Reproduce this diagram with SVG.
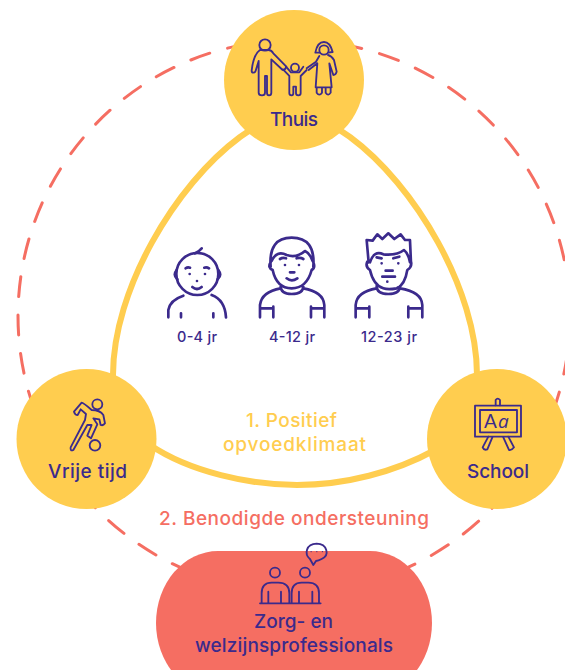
<svg xmlns="http://www.w3.org/2000/svg" width="565" height="670" viewBox="0 0 565 670">
<style>
.t{font-family:"Inter","Noto Sans",sans-serif;font-weight:500;text-anchor:middle}
.ink{fill:#3B2A8C}
.yel{fill:#FFCD4F}
.cor{fill:#F56E62}
.ic{fill:none;stroke:#3B2A8C;stroke-linecap:round;stroke-linejoin:round}
.i1{stroke-width:5.5}
.i2{stroke-width:8}
</style>
<rect width="565" height="670" fill="#fff"/>
<g id="connectors" fill="none">
<circle id="ring" cx="294" cy="316" r="276" stroke="#F56E62" stroke-width="3" stroke-linecap="round" stroke-dasharray="20 18.53"/>
<path id="climate" stroke="#FFCD4F" stroke-width="6" d="M240,137 C175,185 113,290 113,375 L113,400 L150,445 C190,472 250,485 297,485 C345,485 395,472 435,450 L477,400 L477,375 C477,290 415,185 350,137 L295,100 Z"/>
</g>
<g id="node-thuis">
<circle class="yel" cx="294" cy="80" r="70"/>
<g class="ic i1" transform="translate(210,0) scale(.3333)">
<circle cx="165" cy="135" r="17"/>
<path d="M150,150 C135,160 128,185 125,212 C125,220 135,220 137,212 L146,183 L146,278 Q146,286 156,286 Q165,286 165,278 L165,228 L171,228 L171,278 Q171,286 177,286 Q184,286 184,278 L184,178 L218,210 Q225,212 229,200 L190,160 Q185,150 175,150 Z"/>
<circle cx="255" cy="203" r="12"/>
<path d="M219,208 L238,228 L238,280 Q238,286 245,286 Q250,286 250,280 L250,260 L258,260 L258,280 Q258,286 265,286 Q272,286 272,280 L272,228 L290,210 M280,200 L268,217 L243,217 L228,200"/>
<circle cx="342" cy="150" r="14"/>
<path d="M316,158 Q322,126 342,126 Q360,126 368,156 L354,158 M330,158 L316,158"/>
<path d="M290,205 L318,185 L328,168 M322,190 L317,262 L365,262 L358,190 L370,225 Q378,225 380,215 L372,180 Q365,168 354,165 M296,210 L322,190 M320,262 L320,278 Q328,290 336,278 L336,262 M347,262 L347,278 Q355,290 362,278 L362,262"/>
</g>
<text class="t ink" x="294" y="125.500" font-size="19" textLength="48">Thuis</text>
</g>
<g id="node-children">
<g class="ic i2" transform="translate(150,225) scale(.3333)">
<circle cx="142" cy="147" r="63"/>
<path d="M80,135 Q68,150 82,163 M205,135 Q217,150 203,163 M135,85 Q145,82 155,70 M107,130 Q113,125 120,128 M163,128 Q170,125 177,130 M127,186 Q141,198 155,186 M55,277 L55,255 Q60,225 100,212 M185,210 Q225,225 228,277 M93,265 L93,277 M190,265 L190,277 M119,147 L119,147 M165,147 L165,147 M141,168 L141,168"/>
<path d="M362,125 Q355,38 425,38 Q497,38 490,125 M365,108 Q380,75 410,90 Q440,100 465,78 Q480,85 488,108 M362,112 Q352,128 368,135 Q380,190 425,190 Q470,190 485,135 Q497,128 490,112 M405,120 L405,120 M447,120 L447,120 M390,102 Q398,97 408,100 M440,100 Q452,97 460,102 M420,142 L433,142 M410,160 Q425,172 442,160 M392,183 Q392,207 425,207 Q460,207 460,183 M330,277 L330,240 Q335,200 392,190 M460,190 Q520,200 523,240 L523,277 M330,250 L370,250 M370,245 L370,277 M483,245 L483,277 M483,250 L523,250"/>
<path d="M656,112 L650,45 L668,47 L682,28 L697,42 L715,25 L733,42 L752,28 L765,45 L780,45 L783,112 M660,112 Q672,75 700,88 Q740,92 762,75 Q775,85 780,112 M652,110 Q645,125 660,135 Q670,180 700,190 Q715,195 740,190 Q765,180 772,135 Q787,125 783,110 M695,115 L695,115 M745,115 L745,115 M680,97 L695,100 M730,100 L748,95 M707,137 L728,137 M697,155 L735,155 M712,170 L712,170 M680,183 Q680,207 715,207 Q750,207 750,183 M617,277 L617,240 Q620,200 680,190 M750,190 Q815,200 817,240 L817,277 M617,250 L658,250 M658,245 L658,277 M775,245 L775,277 M775,250 L817,250"/>
</g>
<text class="t ink" x="197" y="342" font-size="14.500" textLength="40">0-4 jr</text>
<text class="t ink" x="292" y="342" font-size="14.500" textLength="46">4-12 jr</text>
<text class="t ink" x="389" y="342" font-size="14.500" textLength="56">12-23 jr</text>
</g>
<g id="node-vrije-tijd">
<circle class="yel" cx="86.500" cy="439" r="70"/>
<g class="ic i1" transform="translate(10,360) scale(.3333)">
<circle cx="262" cy="133" r="15"/>
<circle cx="255" cy="256" r="16"/>
<path d="M192,155 L215,128 Q220,128 245,150 Q270,150 280,165 L285,190 Q280,198 272,195 L268,178 L250,175 L262,193 L243,235 L232,227 L245,195 L232,195 L190,270 Q180,275 182,262 L225,180 L228,162 L212,148 L203,165 Q195,165 192,155 Z"/>
</g>
<text class="t ink" x="87.500" y="478" font-size="19" textLength="79">Vrije tijd</text>
</g>
<g id="node-school">
<circle class="yel" cx="497" cy="439" r="70"/>
<g class="ic i1" transform="translate(420,360) scale(.3333)">
<rect x="165" y="137" width="138" height="93"/>
<rect x="180" y="150" width="111" height="67"/>
<path d="M227,136 L227,120 Q233,112 240,120 L240,136 M205,230 L188,262 Q192,272 202,268 L217,232 M250,232 L267,270 Q275,272 282,262 L265,230"/>
</g>
<text class="ink" x="484" y="428" font-size="19" font-family="Lato,sans-serif" font-weight="400">A<tspan font-family="Open Sans,sans-serif" font-style="italic" dx="1">a</tspan></text>
<text class="t ink" x="498" y="478" font-size="19" textLength="62">School</text>
</g>
<g id="label-climate">
<text class="t yel" x="291.500" y="427" font-size="19" textLength="91">1. Positief</text>
<text class="t yel" x="294.500" y="451" font-size="19" textLength="143">opvoedklimaat</text>
</g>
<g id="label-support">
<text class="t cor" x="294" y="525" font-size="19" textLength="270">2. Benodigde ondersteuning</text>
</g>
<g id="node-professionals">
<rect class="cor" x="156" y="551" width="276" height="144" rx="62" ry="72"/>
<g class="ic i1" transform="translate(150,530) scale(.3333)">
<circle cx="375" cy="128" r="15"/>
<circle cx="465" cy="128" r="15"/>
<path d="M335,218 L335,190 Q335,158 365,158 L385,158 Q418,158 418,190 L418,218 M425,218 L425,190 Q425,158 455,158 L475,158 Q507,158 507,190 L507,218 M330,220 L512,220 M355,185 L355,218 M393,185 L393,218 M447,185 L447,218 M487,185 L487,218"/>
<path d="M480,87 C462,72 468,42 500,41 C532,42 540,75 515,87 Q505,92 498,93 L490,105 Z"/>
<path d="M483,65 L484,65 M500,65 L501,65 M517,65 L518,65" stroke-width="3"/>
</g>
<text class="t ink" x="293.500" y="628" font-size="19" textLength="79">Zorg- en</text>
<text class="t ink" x="294" y="652" font-size="19" textLength="198">welzijnsprofessionals</text>
</g>
</svg>
